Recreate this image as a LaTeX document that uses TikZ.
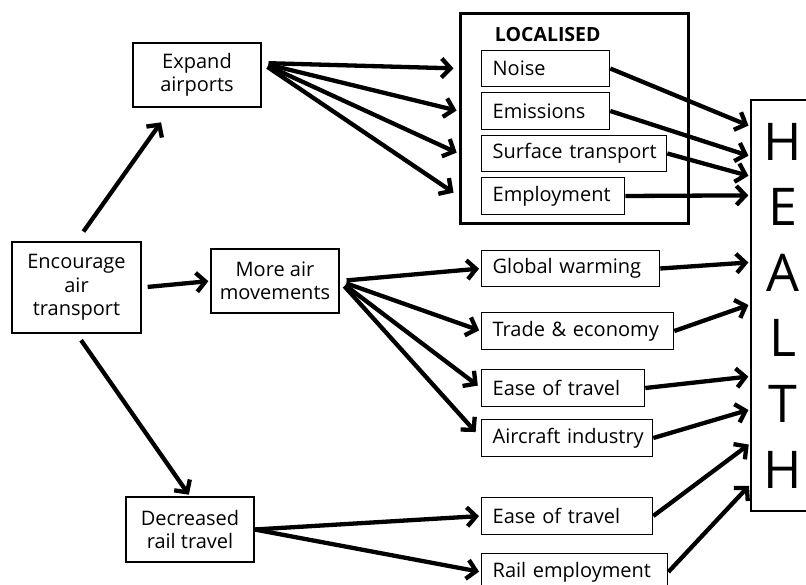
\documentclass[tikz,border=0pt]{standalone}
\usepackage{fontspec}
\setmainfont{Open Sans}
\usepackage{tikz}
\usetikzlibrary{arrows.meta,shapes}

\begin{document}
\begin{tikzpicture}[x=1pt,y=-1pt,line width=1.3pt,
	every node/.style={font=\fontsize{20}{23.5}\selectfont},
	cause/.style={draw,minimum width=128pt,minimum height=64pt,align=center,inner sep=2pt},
	effect/.style={draw,anchor=west,minimum height=36.5pt,inner xsep=11pt,text width=#1pt,align=left,
		execute at begin node={\hyphenpenalty=10000}},
	link/.style={line width=4.3pt,shorten >=2pt,-{Straight Barb[length=9pt,width=19pt]}}]
	\useasboundingbox (0,0) rectangle (806,585);
	% causes
	\node[cause] (ea) at (197,75) {Expand\\airports};
	\node[cause,minimum width=129pt,minimum height=91pt] (enc) at (76.5,287.5) {Encourage\\air\\transport};
	\node[cause] (more) at (275,281) {More air\\movements};
	\node[cause,minimum height=65pt] (dec) at (190,529.5) {Decreased\\rail travel};
	% localised effects
	\node[draw,line width=3pt,minimum width=228pt,minimum height=210pt] (loc) at (574,119) {};
	\node[anchor=west,font=\bfseries\fontsize{19.5}{23}\selectfont] (loctitle) at (491,35) {LOCALISED};
	\node[effect=106] (noise) at (481,68.5) {Noise};
	\node[effect=106] (emis) at (481,111) {Emissions};
	\node[effect=163] (surf) at (481,153.5) {Surface~transport};
	\node[effect=121] (emp) at (481,196) {Employment};
	% wider effects
	\node[effect=156] (gw) at (481,268.5) {Global~warming};
	\node[effect=170] (trade) at (481,331) {Trade~\&~economy};
	\node[effect=141] (ease) at (481,388) {Ease~of~travel};
	\node[effect=149] (air) at (481,438) {Aircraft~industry};
	\node[effect=149] (ease2) at (481,516) {Ease~of~travel};
	\node[effect=164] (rail) at (481,572) {Rail~employment};
	\node[draw,minimum width=64pt,minimum height=411pt,align=center,
		font=\fontsize{52}{65.6}\selectfont] (health) at (783,305.5) {H\\E\\A\\L\\T\\H};
	\path[link]
			(enc.north) edge[shorten <=12pt,shorten >=18pt] (ea.232)
			(enc.east) edge[shorten <=6pt] (more.west)
			(enc.south) edge[shorten <=8pt] (dec.north)
			([yshift=12pt]ea.east) edge[shorten <=7pt,shorten >=5pt] (loc.west |- noise)
			([yshift=12pt]ea.east) edge[shorten <=7pt] (loc.west |- emis)
			([yshift=12pt]ea.east) edge[shorten <=7pt] (loc.west |- surf)
			([yshift=12pt]ea.east) edge[shorten <=7pt,shorten >=6pt] (loc.west |- emp)
			(more.east) edge[shorten <=7pt] (gw.west)
			(more.east) edge[shorten <=7pt] (trade.west)
			(more.east) edge[shorten <=7pt,shorten >=4pt] (ease.west)
			(more.east) edge[shorten <=7pt,shorten >=8pt] (air.west)
			(dec.east) edge (ease2.west)
			(dec.east) edge (rail.west)
			;
	\path[link]
			(noise.east) edge ([yshift=-27pt]health.north west)
			(emis.east) edge ([yshift=-57pt]health.north west)
			(surf.east) edge ([yshift=-77pt]health.north west)
			(emp.east) edge ([yshift=-96pt]health.north west)
			(gw.east) edge ([yshift=-163pt]health.north west)
			(trade.east) edge ([yshift=-205pt]health.north west)
			(ease.east) edge ([yshift=-277pt]health.north west)
			(air.east) edge ([yshift=-310pt]health.north west)
			(ease2.east) edge ([yshift=-344pt]health.north west)
			(rail.east) edge ([yshift=-385pt]health.north west)
			;
\end{tikzpicture}
\end{document}
